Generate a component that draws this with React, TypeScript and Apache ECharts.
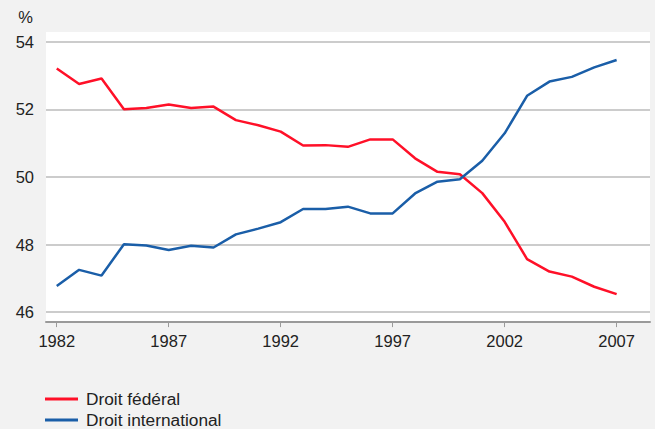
import React, { useEffect, useRef } from "react";
import * as echarts from "echarts";

const years = [1982, 1983, 1984, 1985, 1986, 1987, 1988, 1989, 1990, 1991, 1992, 1993, 1994, 1995, 1996, 1997, 1998, 1999, 2000, 2001, 2002, 2003, 2004, 2005, 2006, 2007];
const droitFederal = [53.21, 52.75, 52.91, 52.0, 52.04, 52.14, 52.04, 52.08, 51.68, 51.53, 51.34, 50.93, 50.94, 50.89, 51.11, 51.11, 50.55, 50.15, 50.08, 49.52, 48.67, 47.57, 47.2, 47.05, 46.75, 46.53];
const droitInternational = [46.77, 47.25, 47.08, 48.01, 47.97, 47.84, 47.96, 47.91, 48.3, 48.47, 48.66, 49.05, 49.05, 49.12, 48.92, 48.92, 49.51, 49.86, 49.93, 50.48, 51.29, 52.4, 52.82, 52.96, 53.24, 53.46];
const xTicks = [1982, 1987, 1992, 1997, 2002, 2007];
const seriesNames = ["Droit fédéral", "Droit international"];

export default function App() {
  const ref = useRef<HTMLDivElement>(null);
  useEffect(() => {
    if (!ref.current) return;
    const chart = echarts.init(ref.current, null, { renderer: "svg" });
    const font = "'Liberation Sans', Arial, Helvetica, sans-serif";
    chart.setOption({
      animation: false,
      backgroundColor: "#f2f2f2",
      textStyle: { fontFamily: font },
      graphic: [
        {
          type: "rect",
          z: -100,
          silent: true,
          shape: { x: 46, y: 32, width: 604, height: 290 },
          style: { fill: "#ffffff" },
        },
      ],
      grid: { left: 46, right: 5, top: 41.7, bottom: 116.9, containLabel: false },
      legend: {
        orient: "vertical",
        left: 45,
        top: 390,
        padding: 0,
        icon: "rect",
        itemWidth: 33,
        itemHeight: 3,
        itemGap: 3,
        textStyle: { fontSize: 17.3, color: "#222", fontFamily: font, lineHeight: 18, padding: [0, 0, 0, 3] },
        data: seriesNames,
      },
      xAxis: {
        type: "value",
        min: 1981.52,
        max: 2008.49,
        offset: 10,
        axisLine: { show: true, lineStyle: { color: "#9a9a9a", width: 2 } },
        axisTick: { show: true, customValues: xTicks, length: 5, lineStyle: { color: "#9a9a9a", width: 1 } },
        axisLabel: { customValues: xTicks, margin: 10, fontSize: 16.5, color: "#222", fontFamily: font, formatter: (v: number) => String(v) },
        splitLine: { show: false },
      },
      yAxis: {
        type: "value",
        min: 46,
        max: 54,
        interval: 2,
        name: "%",
        nameLocation: "end",
        nameGap: 16,
        nameTextStyle: { fontSize: 16.5, color: "#222", align: "right", padding: [0, 13, 0, 0], fontFamily: font },
        axisLine: { show: false },
        axisTick: { show: false },
        axisLabel: { margin: 12, fontSize: 16.5, color: "#222", fontFamily: font },
        splitLine: { show: true, lineStyle: { color: "#cccccc", width: 2 } },
      },
      series: [
        {
          name: seriesNames[0],
          type: "line",
          data: years.map((y, i) => [y, droitFederal[i]]),
          showSymbol: false,
          symbol: "none",
          lineStyle: { color: "#ff1028", width: 2.5 },
          itemStyle: { color: "#ff1028" },
        },
        {
          name: seriesNames[1],
          type: "line",
          data: years.map((y, i) => [y, droitInternational[i]]),
          showSymbol: false,
          symbol: "none",
          lineStyle: { color: "#1a5ea8", width: 2.5 },
          itemStyle: { color: "#1a5ea8" },
        },
      ],
    });
    return () => chart.dispose();
  }, []);
  return <div ref={ref} style={{ width: 655, height: 429, position: "absolute", left: 0, top: 0 }} />;
}
